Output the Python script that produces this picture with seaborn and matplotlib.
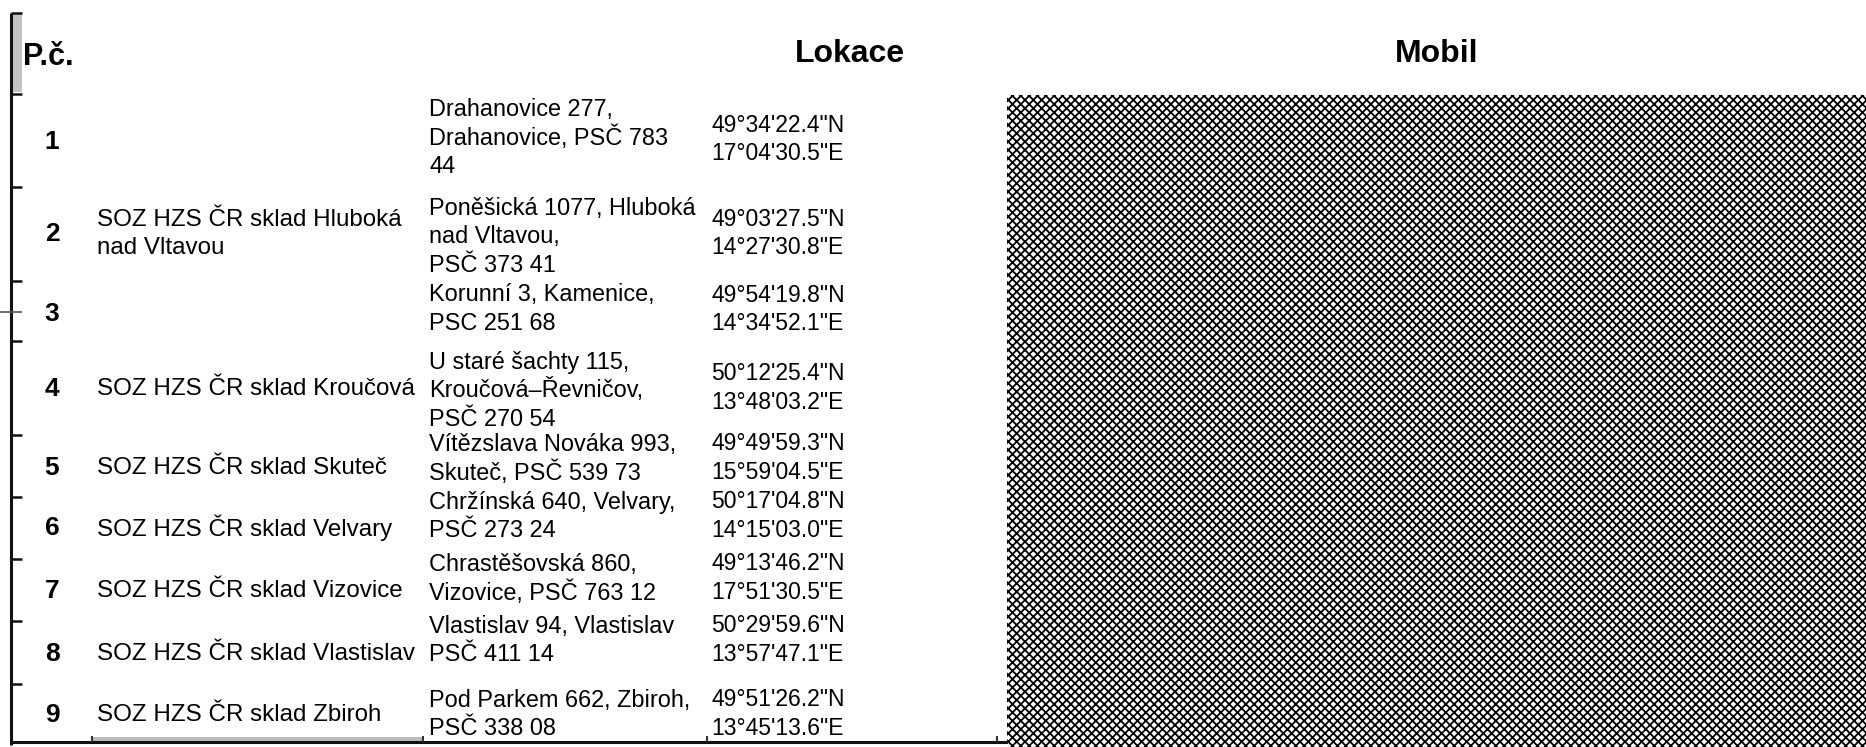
import seaborn as sns
import matplotlib.pyplot as plt
import matplotlib.patches as patches
from matplotlib import font_manager
import pandas as pd

sns.set_theme(style="white")
plt.rcParams['font.family'] = ['Liberation Sans', 'DejaVu Sans']
plt.rcParams['text.color'] = 'black'
plt.rcParams['hatch.linewidth'] = 1.3

#---------------------------------------------
#            DATA
#---------------------------------------------
cisla = ["1", "2", "3", "4", "5", "6", "7", "8", "9"]
nazvy = ["",
         "SOZ HZS ČR sklad Hluboká\nnad Vltavou",
         "",
         "SOZ HZS ČR sklad Kroučová",
         "SOZ HZS ČR sklad Skuteč",
         "SOZ HZS ČR sklad Velvary",
         "SOZ HZS ČR sklad Vizovice",
         "SOZ HZS ČR sklad Vlastislav",
         "SOZ HZS ČR sklad Zbiroh"]
adresy = ["Drahanovice 277,\nDrahanovice, PSČ 783\n44",
          "Poněšická 1077, Hluboká\nnad Vltavou,\nPSČ 373 41",
          "Korunní 3, Kamenice,\nPSC 251 68",
          "U staré šachty 115,\nKroučová–Řevničov,\nPSČ 270 54",
          "Vítězslava Nováka 993,\nSkuteč, PSČ 539 73",
          "Chržínská 640, Velvary,\nPSČ 273 24",
          "Chrastěšovská 860,\nVizovice, PSČ 763 12",
          "Vlastislav 94, Vlastislav\nPSČ 411 14",
          "Pod Parkem 662, Zbiroh,\nPSČ 338 08"]
sirka = ["49°34'22.4\"N", "49°03'27.5\"N", "49°54'19.8\"N", "50°12'25.4\"N", "49°49'59.3\"N",
         "50°17'04.8\"N", "49°13'46.2\"N", "50°29'59.6\"N", "49°51'26.2\"N"]
delka = ["17°04'30.5\"E", "14°27'30.8\"E", "14°34'52.1\"E", "13°48'03.2\"E", "15°59'04.5\"E",
         "14°15'03.0\"E", "17°51'30.5\"E", "13°57'47.1\"E", "13°45'13.6\"E"]
hlavicky = ["P.č.", "Lokace", "Mobil"]

tabulka = pd.DataFrame({"cislo": cisla, "nazev": nazvy, "adresa": adresy,
                        "sirka": sirka, "delka": delka})

#---------------------------------------------
#            LAYOUT (pixels of the scan)
#---------------------------------------------
W, H = 1866, 747
hranice = [13, 94, 187, 281, 341, 435, 497, 559, 621, 684, 745]
y_cislo = [142, 234, 314, 389, 468, 528, 591, 654, 715]
y_adresa = [109.5, 208, 295, 362, 444, 502, 564, 626, 700]
y_souradnice = [125, 219, 295, 374, 444, 502, 564, 626, 700]
radek = 28.5

fig = plt.figure(figsize=(W / 100, H / 100), dpi=100)
ax = fig.add_axes([0, 0, 1, 1])
ax.set_xlim(0, W)
ax.set_ylim(H, 0)
ax.axis("off")

# headers
jmena = {f.name for f in font_manager.fontManager.ttflist}
if "Liberation Sans Narrow" in jmena:
    hfont, hsize = ["Liberation Sans Narrow", "Liberation Sans"], 27
else:
    hfont, hsize = ["Liberation Sans", "DejaVu Sans"], 23
ax.text(23, 57, hlavicky[0], fontsize=22, fontweight="bold", ha="left", va="center")
ax.text(850, 54, hlavicky[1], fontsize=hsize, family=hfont, fontweight="bold", ha="center", va="center")
ax.text(1437, 54, hlavicky[2], fontsize=hsize, family=hfont, fontweight="bold", ha="center", va="center")

# rules of the table
ax.add_patch(patches.Rectangle((13, 13), 9, 79, facecolor="#c4c4c4", edgecolor="none"))
ax.vlines(11, 13, 745, color="#111111", lw=2.2)
ax.hlines(hranice[:-1], 11, 22, color="#111111", lw=1.8)
ax.hlines(312, 0, 22, color="#555555", lw=1.2)
ax.hlines(742, 11, 1007, color="#111111", lw=2.2)
ax.add_patch(patches.Rectangle((92, 737), 331, 4, facecolor="#bbbbbb", edgecolor="none"))
ax.vlines([92, 423, 707, 997], 736, 742, color="#333333", lw=1.5)

# rows
for i, r in tabulka.iterrows():
    ax.text(52, y_cislo[i], r["cislo"], fontsize=19, fontweight="bold", ha="center", va="center")
    nl = r["nazev"].split("\n") if r["nazev"] else []
    y0 = y_cislo[i] - (len(nl) - 1) * 27 / 2
    for k, t in enumerate(nl):
        ax.text(97, y0 + k * 27, t, fontsize=17.4, ha="left", va="center")
    for k, t in enumerate(r["adresa"].split("\n")):
        ax.text(429, y_adresa[i] + k * radek, t, fontsize=16.9, ha="left", va="center")
    ax.text(711, y_souradnice[i], r["sirka"], fontsize=16.5, ha="left", va="center")
    ax.text(711, y_souradnice[i] + radek, r["delka"], fontsize=16.5, ha="left", va="center")

# redacted phone column
ax.add_patch(patches.Rectangle((1007, 95), W - 1007, H - 95, facecolor="white",
                               edgecolor="black", hatch="xxxx", lw=0))

plt.savefig("out.png", dpi=100)
